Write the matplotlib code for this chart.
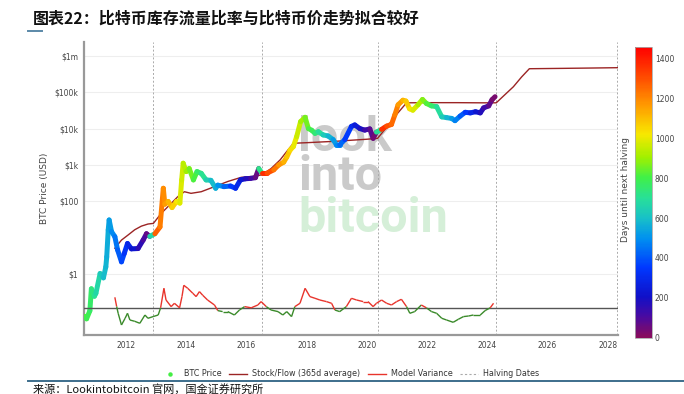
import numpy as np
import matplotlib
matplotlib.use("Agg")
import matplotlib.pyplot as plt
from matplotlib.collections import LineCollection
from matplotlib.colors import LinearSegmentedColormap, Normalize
from matplotlib.lines import Line2D

plt.rcParams['font.family'] = ['DejaVu Sans', 'Noto Sans CJK SC']

# ---------------- data ----------------
price_years = [2010.64, 2010.69, 2010.80, 2010.85, 2010.95, 2011.00, 2011.14, 2011.25, 2011.33,
               2011.36, 2011.41, 2011.44, 2011.52, 2011.63, 2011.72, 2011.85, 2011.94, 2012.05,
               2012.18, 2012.40, 2012.57, 2012.68, 2012.79, 2012.96, 2013.13, 2013.24, 2013.29,
               2013.40, 2013.53, 2013.68, 2013.79, 2013.85, 2013.90, 2014.00, 2014.10, 2014.24,
               2014.36, 2014.50, 2014.66, 2014.82, 2014.98, 2015.05, 2015.25, 2015.47, 2015.64,
               2015.80, 2015.97, 2016.14, 2016.30, 2016.41, 2016.52, 2016.69, 2016.91, 2017.07,
               2017.24, 2017.34, 2017.45, 2017.56, 2017.67, 2017.80, 2017.95, 2018.06, 2018.17,
               2018.28, 2018.39, 2018.55, 2018.71, 2018.88, 2018.99, 2019.10, 2019.27, 2019.49,
               2019.60, 2019.77, 2019.93, 2020.10, 2020.21, 2020.32, 2020.49, 2020.66, 2020.82,
               2020.93, 2021.04, 2021.20, 2021.30, 2021.42, 2021.53, 2021.70, 2021.85, 2021.98,
               2022.15, 2022.32, 2022.49, 2022.65, 2022.82, 2022.93, 2023.10, 2023.27, 2023.44,
               2023.61, 2023.77, 2023.88, 2024.05, 2024.16, 2024.26]
price_usd = [0.07, 0.06, 0.10, 0.40, 0.25, 0.30, 1.05, 0.80, 1.6,
             3.0, 16.5, 31.0, 14.8, 10.8, 4.7, 2.2, 3.7, 7.0,
             5.0, 5.1, 8.7, 13.0, 11.0, 13.0, 20.0, 230.0, 84.0,
             100.0, 68.0, 100.0, 90.0, 390.0, 1120.0, 660.0, 800.0, 390.0,
             660.0, 590.0, 390.0, 380.0, 230.0, 280.0, 255.0, 265.0, 230.0,
             390.0, 420.0, 430.0, 450.0, 800.0, 600.0, 600.0, 740.0, 1000.0,
             1200.0, 1650.0, 2570.0, 3200.0, 6000.0, 15500.0, 20400.0, 10000.0, 9000.0,
             7400.0, 8200.0, 6700.0, 6300.0, 5000.0, 3600.0, 3600.0, 5000.0, 11500.0,
             12600.0, 10000.0, 9100.0, 9800.0, 5400.0, 8000.0, 9500.0, 11700.0, 13000.0,
             23600.0, 45000.0, 60000.0, 57000.0, 35000.0, 32000.0, 45000.0, 63000.0, 49000.0,
             42000.0, 40000.0, 21000.0, 20000.0, 19000.0, 16500.0, 22000.0, 28000.0, 27000.0,
             29000.0, 27000.0, 37000.0, 42000.0, 62000.0, 75000.0]

sf_years = [2011.63, 2011.85, 2012.07, 2012.29, 2012.51, 2012.73, 2012.91, 2013.17, 2013.50,
            2013.72, 2013.94, 2014.16, 2014.50, 2014.94, 2015.39, 2015.83, 2016.27, 2016.52,
            2016.82, 2017.12, 2017.34, 2017.56, 2018.00, 2018.50, 2019.00, 2019.50, 2020.00,
            2020.36, 2020.70, 2021.00, 2021.32, 2022.00, 2023.00, 2023.76, 2024.30, 2024.87,
            2025.14, 2025.40, 2026.50, 2027.50, 2028.35]
sf_usd = [5.2, 8.7, 12.0, 16.7, 21.0, 24.0, 25.0, 47.0, 88.0,
          135.0, 185.0, 167.0, 185.0, 255.0, 355.0, 460.0, 490.0, 540.0,
          800.0, 1380.0, 2350.0, 3960.0, 4100.0, 4300.0, 4500.0, 4800.0, 5100.0,
          5400.0, 12000.0, 25000.0, 51000.0, 51500.0, 51500.0, 51000.0, 51000.0, 141000.0,
          260000.0, 440000.0, 450000.0, 460000.0, 470000.0]

var_years = [2011.63, 2011.69, 2011.74, 2011.85, 2011.97, 2012.05, 2012.13, 2012.29, 2012.46,
             2012.63, 2012.73, 2012.90, 2013.07, 2013.15, 2013.26, 2013.33, 2013.50, 2013.61,
             2013.78, 2013.86, 2013.92, 2014.05, 2014.22, 2014.33, 2014.44, 2014.55, 2014.71,
             2014.94, 2015.05, 2015.21, 2015.38, 2015.60, 2015.77, 2015.94, 2016.16, 2016.38,
             2016.49, 2016.66, 2016.82, 2017.05, 2017.21, 2017.34, 2017.50, 2017.61, 2017.78,
             2017.95, 2018.11, 2018.28, 2018.44, 2018.66, 2018.83, 2018.94, 2019.10, 2019.32,
             2019.49, 2019.66, 2019.88, 2020.04, 2020.21, 2020.32, 2020.49, 2020.66, 2020.82,
             2020.99, 2021.15, 2021.32, 2021.43, 2021.59, 2021.81, 2021.98, 2022.15, 2022.32,
             2022.49, 2022.65, 2022.87, 2023.04, 2023.21, 2023.38, 2023.54, 2023.77, 2023.93,
             2024.10, 2024.21]
var_vals = [11.0, 1.7, -5.0, -16.7, -10.0, -5.0, -11.7, -13.0, -15.0,
            -6.7, -10.0, -8.3, -6.7, 0.5, 20.0, 8.3, 1.7, 5.0,
            0.5, 11.7, 23.0, 20.0, 15.0, 11.7, 16.7, 13.0, 8.3,
            3.3, -2.3, -3.3, -3.3, -6.7, -1.7, 1.7, 0.5, 3.3,
            6.7, 1.7, -1.7, -3.3, -6.7, -3.3, -8.3, 1.7, 5.0,
            20.0, 11.7, 10.0, 8.3, 6.7, 5.0, -1.7, -3.3, 1.7,
            10.0, 8.3, 6.7, 6.7, 1.7, 5.0, 8.3, 5.0, 3.3,
            6.7, 9.0, 1.7, -5.0, -3.3, 3.3, 0.5, -3.3, -5.0,
            -10.0, -11.7, -14.0, -11.0, -8.3, -7.7, -6.7, -6.7, -2.3,
            0.5, 5.0]

halving_years = [2012.91, 2016.52, 2020.36, 2024.30, 2028.30]
y_ticks = [1, 100, 1000, 10000, 100000, 1000000]
y_tick_labels = ['$1', '$100', '$1k', '$10k', '$100k', '$1m']
x_ticks = [2012, 2014, 2016, 2018, 2020, 2022, 2024, 2026, 2028]
cbar_ticks = [0, 200, 400, 600, 800, 1000, 1200, 1400]

# ---------------- figure ----------------
W, H = 684, 394
fig = plt.figure(figsize=(W / 100, H / 100), dpi=100)
fig.patch.set_facecolor('white')

ax = fig.add_axes([84 / W, 1 - 335 / H, (618 - 84) / W, (335 - 42) / H])
ax.set_yscale('log')
ax.set_xlim(2010.605, 2028.345)
ax.set_ylim(10 ** -1.666, 10 ** 6.377)

# colormap
cmap = LinearSegmentedColormap.from_list('halving', [
    (0.00, '#8a0c5c'), (0.07, '#4a0aa0'), (0.14, '#1010c8'), (0.24, '#0038ff'),
    (0.34, '#0090f0'), (0.41, '#18c0c8'), (0.48, '#28e098'), (0.55, '#40f048'),
    (0.62, '#a0f000'), (0.70, '#f8e800'), (0.80, '#ff9a00'), (0.89, '#ff5000'),
    (1.00, '#ff0000')])
norm = Normalize(0, 1460)

# watermark
wm_x = 2012 + (298 - 126) / 30.1
ax.text(wm_x, 10 ** 2.31, 'look\ninto', fontsize=35, fontweight='bold', color='#cacaca',
        family='Roboto', ha='left', va='baseline', linespacing=0.8, zorder=1)
ax.text(wm_x, 10 ** 1.16, 'bitcoin', fontsize=35, fontweight='bold', color='#d5efd8',
        family='Roboto', ha='left', va='baseline', zorder=1)

# grid
for t in y_ticks:
    ax.axhline(t, color='#eeeeee', lw=0.8, zorder=0)

# halving lines
for h in halving_years:
    ax.axvline(h, color='#aaaaaa', lw=0.7, ls=(0, (2, 2)), zorder=1)

# variance baseline + line (twin axis)
ax2 = ax.twinx()
ax2.set_ylim(-26.7, 266.3)
ax2.axhline(0, color='#555555', lw=1.0, zorder=2)
vx = np.array(var_years)
vy = np.array(var_vals)
segs = np.stack([np.column_stack([vx[:-1], vy[:-1]]), np.column_stack([vx[1:], vy[1:]])], axis=1)
vcols = ['#e8342c' if (a + b) / 2 > 0 else '#3a8a2a' for a, b in zip(vy[:-1], vy[1:])]
ax2.add_collection(LineCollection(segs, colors=vcols, linewidths=1.0, zorder=3))
ax2.set_yticks([])
for s in ax2.spines.values():
    s.set_visible(False)

# stock/flow model
ax.plot(sf_years, sf_usd, color='#9b2424', lw=1.0, zorder=4)

# price coloured by days until next halving
px = np.array(price_years)
py = np.array(price_usd)
hv = np.array(halving_years)
days = np.array([(hv[hv > x].min() - x) * 365.25 for x in px])
pseg = np.stack([np.column_stack([px[:-1], py[:-1]]), np.column_stack([px[1:], py[1:]])], axis=1)
pcols = cmap(norm((days[:-1] + days[1:]) / 2))
ax.add_collection(LineCollection(pseg, colors=pcols, linewidths=3.6, capstyle='round',
                                 joinstyle='round', zorder=5))

# axes styling
ax.set_yticks(y_ticks)
ax.set_yticklabels(y_tick_labels)
ax.yaxis.set_minor_locator(matplotlib.ticker.NullLocator())
ax.set_xticks(x_ticks)
ax.set_xticklabels([str(t) for t in x_ticks])
ax.tick_params(axis='both', length=0, labelsize=5.5, colors='#444444', pad=4)
ax.set_ylabel('BTC Price (USD)', fontsize=6.5, color='#444444', labelpad=4)
for side in ['top', 'right']:
    ax.spines[side].set_visible(False)
ax.spines['left'].set_color('#999999')
ax.spines['left'].set_linewidth(1.6)
ax.spines['bottom'].set_color('#999999')
ax.spines['bottom'].set_linewidth(1.6)

# colorbar
cax = fig.add_axes([635 / W, 1 - 337.7 / H, 17 / W, (337.7 - 46.7) / H])
sm = matplotlib.cm.ScalarMappable(norm=norm, cmap=cmap)
cb = fig.colorbar(sm, cax=cax)
cb.set_ticks(cbar_ticks)
cb.ax.tick_params(length=0, labelsize=5.5, colors='#444444', pad=2)
cb.outline.set_edgecolor('#aaaaaa')
cb.outline.set_linewidth(0.6)
fig.text(625 / W, 1 - 190 / H, 'Days until next halving', rotation=90, fontsize=6.5,
         color='#444444', ha='center', va='center')

# legend
handles = [Line2D([], [], marker='o', ls='none', color='#44ee44', markersize=2.2),
           Line2D([], [], color='#9b2424', lw=1.0),
           Line2D([], [], color='#e8342c', lw=1.0),
           Line2D([], [], color='#aaaaaa', lw=0.8, ls=(0, (2, 2)))]
labels = ['BTC Price', 'Stock/Flow (365d average)', 'Model Variance', 'Halving Dates']
fig.legend(handles, labels, loc='center', bbox_to_anchor=(350 / W, 1 - 374 / H), ncol=4,
           frameon=False, fontsize=5.8, handlelength=2.2, columnspacing=1.0,
           handletextpad=0.6, labelcolor='#333333')

# title, rules, source
fig.text(33 / W, 1 - 19 / H, '图表22：比特币库存流量比率与比特币价走势拟合较好',
         fontsize=11.5, fontweight='bold', family=['Noto Sans CJK SC', 'DejaVu Sans'],
         ha='left', va='center', color='#111111')
fig.add_artist(Line2D([28 / W, 42 / W], [1 - 31 / H, 1 - 31 / H], color='#5b89a8', lw=1.4))
fig.add_artist(Line2D([28 / W, 1.0], [1 - 381 / H, 1 - 381 / H], color='#3d6e8c', lw=1.4))
fig.text(33 / W, 1 - 389 / H, '来源：Lookintobitcoin 官网，国金证券研究所', fontsize=8,
         family=['Noto Sans CJK SC', 'DejaVu Sans'], ha='left', va='center', color='#111111')

fig.savefig('out.png', dpi=100)
